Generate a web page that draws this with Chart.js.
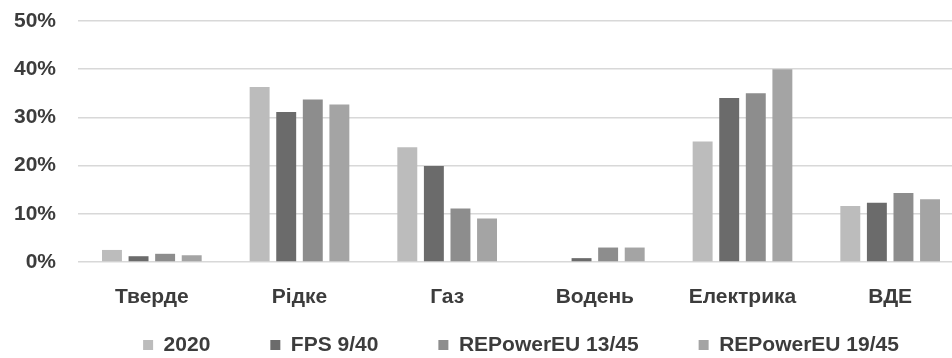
<!DOCTYPE html>
<html>
<head>
<meta charset="utf-8">
<script src="https://cdn.jsdelivr.net/npm/chart.js@4.4.1/dist/chart.umd.min.js"></script>
<style>
  html, body { margin: 0; padding: 0; background: #ffffff; overflow: hidden; }
  #wrap { position: relative; width: 966px; height: 358px; }
</style>
</head>
<body>
<div id="wrap"><canvas id="c"></canvas></div>
<script>
const categories = ['Тверде', 'Рідке', 'Газ', 'Водень', 'Електрика', 'ВДЕ'];
const seriesNames = ['2020', 'FPS 9/40', 'REPowerEU 13/45', 'REPowerEU 19/45'];
const s2020 = [2.5, 36.3, 23.8, 0.0, 25.0, 11.6];
const sFPS = [1.2, 31.1, 19.9, 0.8, 34.0, 12.3];
const sREP13 = [1.7, 33.7, 11.1, 3.0, 35.0, 14.3];
const sREP19 = [1.4, 32.7, 9.0, 3.0, 40.0, 13.0];
const yTickLabels = ['0%', '10%', '20%', '30%', '40%', '50%'];

const colors = ['#bcbcbc', '#6b6b6b', '#8d8d8d', '#a4a4a4'];
const seriesData = [s2020, sFPS, sREP13, sREP19];

const textColor = '#3c3c3c';
const textFont = { size: 21, weight: 'bold' };

Chart.defaults.font.family = "'Liberation Sans', Arial, sans-serif";
Chart.defaults.font.size = 21;
Chart.defaults.color = textColor;

const legendShift = {
  id: 'legendShift',
  afterLayout(chart) {
    const l = chart.legend;
    if (!l) return;
    const ca = chart.chartArea;
    const dx = (ca.left + ca.right) / 2 - (l.left + l.right) / 2;
    l.left += dx; l.right += dx;
    const pad = l.options.labels.padding;
    const fs = l.options.labels.font.size;
    l.top = 345 - pad - fs / 2;
    l.bottom = chart.height;
  }
};

new Chart(document.getElementById('c'), {
  type: 'bar',
  data: {
    labels: categories,
    datasets: seriesNames.map((n, i) => ({
      label: n,
      data: seriesData[i],
      backgroundColor: colors[i],
      borderWidth: 0,
      categoryPercentage: 0.72,
      barPercentage: 0.75
    }))
  },
  options: {
    responsive: true,
    maintainAspectRatio: false,
    animation: false,
    layout: { padding: { top: 21, left: 10, right: 2, bottom: 0 } },
    plugins: {
      tooltip: { enabled: false },
      legend: {
        position: 'bottom',
        maxHeight: 48,
        labels: {
          boxWidth: 10,
          boxHeight: 10,
          padding: 60,
          color: textColor,
          font: textFont
        }
      }
    },
    scales: {
      x: {
        grid: { display: false, drawTicks: false },
        border: { display: false },
        ticks: { padding: 23, color: textColor, font: textFont },
        afterFit: (s) => { s.height = 48; }
      },
      y: {
        min: 0,
        max: 50,
        grid: { color: '#d8d8d8', lineWidth: 1.5, drawTicks: false },
        border: { display: false },
        ticks: {
          stepSize: 10,
          padding: 22,
          color: textColor,
          font: textFont,
          callback: (v, i) => yTickLabels[i]
        },
        afterFit: (s) => { s.width = 68; s.paddingTop = 0; s.paddingBottom = 0; }
      }
    }
  },
  plugins: [legendShift]
});
</script>
</body>
</html>
